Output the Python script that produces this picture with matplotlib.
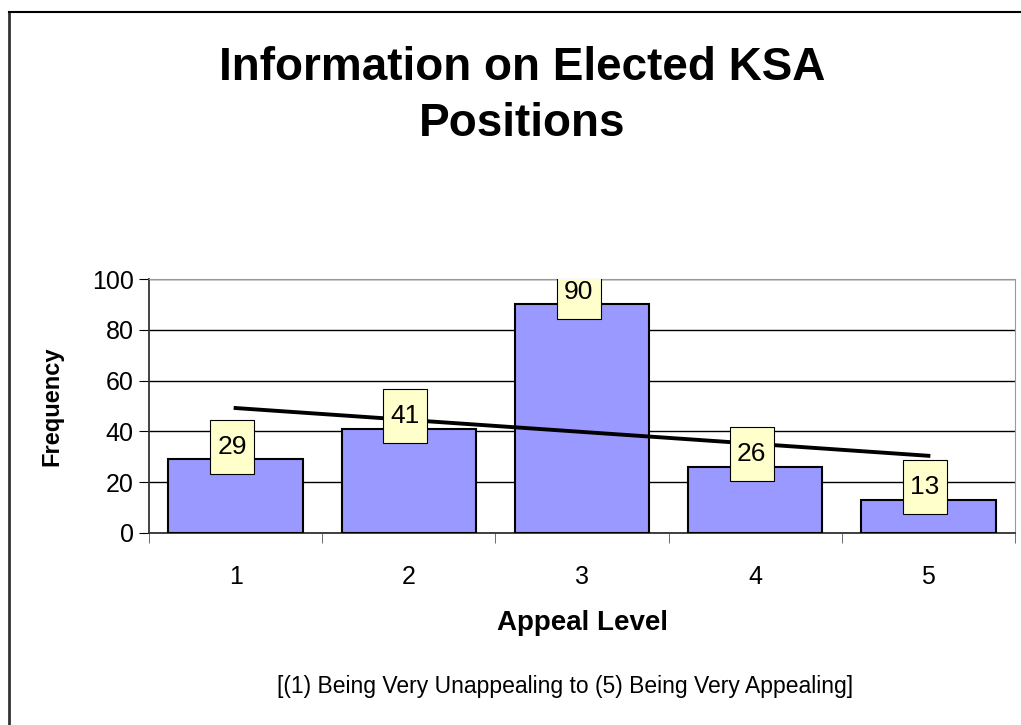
import numpy as np
import matplotlib.pyplot as plt
from matplotlib.patches import Rectangle

# Appeal level survey data
levels = [1, 2, 3, 4, 5]
frequency = [29, 41, 90, 26, 13]
tick_labels = ['1', '2', '3', '4', '5']

plt.rcParams['font.family'] = ['Liberation Sans', 'DejaVu Sans']

fig = plt.figure(figsize=(10.21, 7.25), dpi=100)
W, H = 1021, 725

# axes placed in pixel terms of the figure
left, right, top, bottom = 149, 1015, 279, 533
ax = fig.add_axes([left / W, 1 - bottom / H, (right - left) / W, (bottom - top) / H])

ax.bar(levels, frequency, width=0.775, color='#9999FF', edgecolor='black', linewidth=1.5, zorder=3)

# linear trend line
slope, intercept = np.polyfit(levels, frequency, 1)
xs = np.array([levels[0], levels[-1]])
ax.plot(xs, slope * xs + intercept, color='black', linewidth=2.8, zorder=5)

# data labels in yellow boxes (box ~44x54 px)
box_w = 44 / (right - left) * 5
box_h = 54 / (bottom - top) * 100
for x, v in zip(levels, frequency):
    cx, cy = x - 0.02, v + 5
    ax.add_patch(Rectangle((cx - box_w / 2, cy - box_h / 2), box_w, box_h,
                           facecolor='#FFFFCC', edgecolor='black', linewidth=0.8, zorder=6))
    ax.text(cx, cy, str(v), ha='center', va='center', fontsize=19, zorder=7)

ax.set_xlim(0.5, 5.5)
ax.set_ylim(0, 100)
ax.set_yticks(range(0, 101, 20))
ax.yaxis.grid(True, color='black', linewidth=1, zorder=0)
ax.set_axisbelow(True)

ax.set_xticks(levels)
ax.set_xticklabels(tick_labels, fontsize=18)
ax.tick_params(axis='x', length=0, pad=23)
ax.set_xticks(np.arange(0.5, 5.6, 1), minor=True)
ax.tick_params(axis='x', which='minor', length=7, direction='out', color='#555555')
ax.tick_params(axis='y', labelsize=18, length=7, direction='out', pad=4)

for side in ['top', 'right']:
    ax.spines[side].set_color('#999999')
ax.spines['left'].set_color('#333333')
ax.spines['bottom'].set_color('#333333')
ax.spines['left'].set_linewidth(1.3)
ax.spines['bottom'].set_linewidth(1.3)

ax.set_xlabel('Appeal Level', fontsize=20, fontweight='bold')
ax.xaxis.set_label_coords(0.5, (bottom - 623) / (bottom - top))
ax.xaxis.label.set_va('center')
ax.set_ylabel('Frequency', fontsize=17, fontweight='bold')
ax.yaxis.set_label_coords((52 - left) / (right - left), 0.5)
ax.yaxis.label.set_va('center')

fig.text(522 / W, 1 - 96 / H, 'Information on Elected KSA\nPositions', ha='center', va='center',
         fontsize=33, fontweight='bold', linespacing=1.35)
fig.text(565 / W, 1 - 686 / H, '[(1) Being Very Unappealing to (5) Being Very Appealing]',
         ha='center', va='center', fontsize=16.5)

# outer chart border (only left and top visible in the crop)
fig.add_artist(plt.Line2D([8.5 / W, 8.5 / W], [0, 1 - 12 / H], transform=fig.transFigure,
                          color='#333333', linewidth=2))
fig.add_artist(plt.Line2D([8.5 / W, 1], [1 - 12 / H, 1 - 12 / H], transform=fig.transFigure,
                          color='black', linewidth=1.5))

fig.savefig('out.png', dpi=100)
